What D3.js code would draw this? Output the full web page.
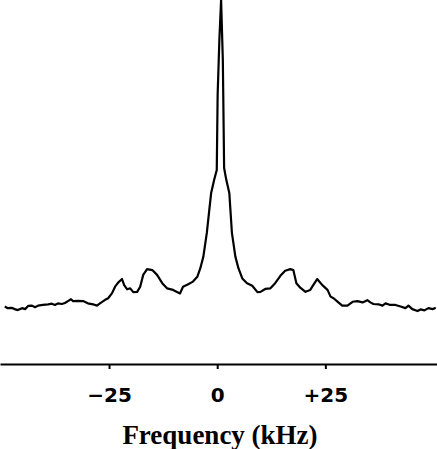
<!DOCTYPE html>
<html>
<head>
<meta charset="utf-8">
<script src="https://cdn.jsdelivr.net/npm/d3@7"></script>
<style>
  body { margin: 0; background: #fff; }
  svg { display: block; }
</style>
</head>
<body>
<svg id="chart" width="437" height="449"></svg>
<script>
// spectrum: frequency (kHz) and intensity (arb. units)
var freq = [-49.1, -48.4, -47.5, -46.8, -46.1, -45.1, -44.4, -43.7, -42.8, -42.1,
  -41.4, -40.3, -39.1, -38.2, -37.5, -36.8, -35.9, -35.2, -34.5, -33.8,
  -33.3, -32.2, -31.0, -29.9, -28.7, -27.8, -27.1, -25.9, -25.2, -24.3,
  -23.6, -22.9, -22.0, -21.5, -20.8, -20.1, -19.4, -18.5, -17.8, -17.1,
  -16.2, -15.0, -13.9, -12.7, -11.6, -10.2, -8.6, -7.9, -6.7, -5.6,
  -4.6, -3.9, -3.2, -2.4, -1.4, -0.7, -0.1, 0.1, 0.5, 0.9,
  1.3, 1.4, 1.6, 2.1, 2.8, 3.4, 4.2, 4.9, 5.8, 6.9,
  8.1, 9.3, 10.0, 11.1, 12.3, 13.4, 14.6, 15.7, 16.9, 17.6,
  18.3, 19.2, 20.4, 21.5, 22.2, 23.1, 24.3, 25.5, 26.2, 26.9,
  28.0, 28.9, 30.1, 31.3, 32.4, 33.6, 34.7, 35.4, 36.1, 37.3,
  38.2, 38.9, 40.0, 41.2, 42.4, 43.5, 44.2, 45.1, 46.3, 47.0,
  47.9, 48.8, 49.8, 50.5];
var intensity = [4.2, 3.7, 3.8, 3.4, 3.1, 3.7, 3.4, 4.4, 4.5, 4.0,
  4.5, 4.7, 4.9, 5.1, 4.7, 5.2, 5.0, 5.3, 5.9, 6.5,
  5.9, 6.0, 5.9, 5.2, 4.9, 4.5, 5.2, 6.3, 6.8, 8.4,
  10.4, 11.7, 12.8, 10.9, 9.6, 9.9, 8.7, 8.8, 10.4, 14.1,
  15.9, 15.6, 14.1, 11.5, 9.9, 9.4, 8.3, 10.4, 11.2, 12.0,
  13.5, 16.2, 19.8, 27.2, 39.7, 43.8, 46.9, 70.3, 87.5, 100,
  81.3, 70.3, 47.5, 43.8, 39.7, 27.2, 19.8, 16.2, 13.0, 11.5,
  10.7, 8.7, 8.8, 9.7, 9.9, 11.5, 13.8, 15.4, 15.9, 15.6,
  11.5, 10.1, 8.8, 9.4, 10.9, 12.8, 10.9, 9.4, 7.3, 6.8,
  5.5, 4.5, 4.5, 5.7, 5.9, 5.5, 6.2, 5.5, 5.0, 4.9,
  4.5, 5.2, 4.7, 4.7, 4.2, 3.7, 4.5, 3.4, 2.8, 3.3,
  3.0, 3.7, 3.4, 3.8];
var tickValues = [-25, 0, 25];
var tickLabels = ["\u221225", "0", "+25"];

var width = 437, height = 449;
var svg = d3.select('svg#chart');

var x = d3.scaleLinear().domain([-50.2, 50.8]).range([0, width]);
var y = d3.scaleLinear().domain([0, 100]).range([320, 0]);

var points = freq.map(function (f, i) { return [f, intensity[i]]; });

var line = d3.line()
  .x(d => x(d[0]))
  .y(d => y(d[1]));

svg.append('path')
  .datum(points)
  .attr('fill', 'none')
  .attr('stroke', '#000')
  .attr('stroke-width', 2.2)
  .attr('stroke-linejoin', 'round')
  .attr('d', line);

var axis = svg.append('g')
  .attr('transform', 'translate(0,364)')
  .call(d3.axisBottom(x)
    .tickValues(tickValues)
    .tickFormat((d, i) => tickLabels[i])
    .tickSize(5)
    .tickSizeOuter(0));

axis.select('.domain').attr('stroke-width', 2);
axis.selectAll('.tick line').attr('stroke-width', 2);
axis.selectAll('.tick text')
  .attr('y', 38)
  .attr('dy', 0)
  .style('font-family', '"DejaVu Sans", sans-serif')
  .style('font-weight', 'bold')
  .style('font-size', '20px')
  .attr('fill', '#000');

svg.append('text')
  .attr('x', 220)
  .attr('y', 444)
  .attr('text-anchor', 'middle')
  .style('font-family', '"Liberation Serif", "Times New Roman", serif')
  .style('font-weight', 'bold')
  .style('font-size', '27px')
  .text('Frequency (kHz)');
</script>
</body>
</html>
